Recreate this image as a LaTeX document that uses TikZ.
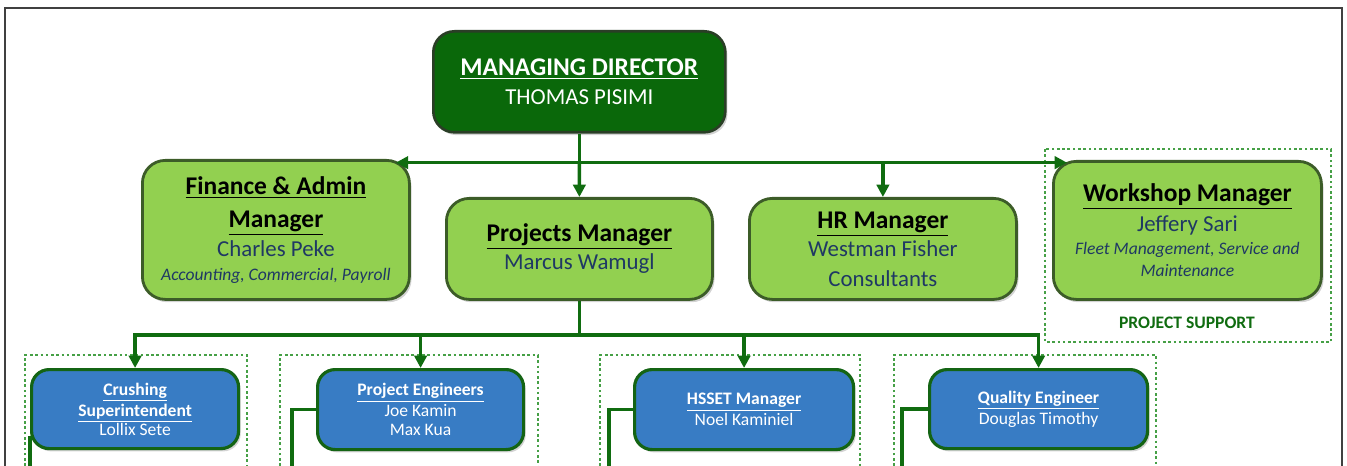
\documentclass[tikz,border=0pt]{standalone}
\usepackage{fontspec}
\setmainfont{Carlito}
\usepackage{tikz}
\usetikzlibrary{arrows.meta}
\usetikzlibrary{shadows}
\usetikzlibrary{positioning}

\definecolor{mdgreen}{RGB}{10,104,10}
\definecolor{mdedge}{RGB}{42,62,38}
\definecolor{mgrgreen}{RGB}{146,208,80}
\definecolor{mgredge}{RGB}{60,92,40}
\definecolor{leadblue}{RGB}{56,124,196}
\definecolor{leadedge}{RGB}{20,100,20}
\definecolor{linkgreen}{RGB}{16,108,16}
\definecolor{teamgreen}{RGB}{70,160,70}
\definecolor{namenavy}{RGB}{31,56,100}

\begin{document}
\begin{tikzpicture}[x=0.02cm, y=-0.02cm,
    orgbox/.style={rectangle, anchor=north west, align=center, inner sep=2pt,
        drop shadow={shadow xshift=1.2pt, shadow yshift=-1.6pt, opacity=0.35}},
    mdbox/.style={orgbox, draw=mdedge, line width=1.5pt, fill=mdgreen, rounded corners=12pt,
        text=white, font=\fontsize{13}{16}\selectfont},
    mgrbox/.style={orgbox, draw=mgredge, line width=1.6pt, fill=mgrgreen, rounded corners=13pt,
        font=\fontsize{13}{16}\selectfont},
    leadbox/.style={orgbox, draw=leadedge, line width=1.8pt, fill=leadblue, rounded corners=10pt,
        text=white, font=\fontsize{10}{11.5}\selectfont},
    teamframe/.style={draw=teamgreen, line width=0.6pt, dash pattern=on 1.5pt off 1.5pt},
    link/.style={draw=linkgreen, line width=2pt},
    arr/.style={link, -{Triangle[length=7pt,width=7pt]}}
]

\newcommand\px{0.02cm}
\newcommand\mgrtitle[1]{{\fontsize{14.5}{16}\selectfont\bfseries\underline{#1}}}
\newcommand\mgrname[1]{{\fontsize{13}{16}\selectfont\color{namenavy}#1}}
\newcommand\mgrnote[1]{{\fontsize{10}{12}\selectfont\itshape\color{namenavy}#1}}
\newcommand\leadtitle[1]{{\bfseries\underline{#1}}}

\useasboundingbox (0,0) rectangle (1347,466);
\coordinate (bottomedge) at (0,466);

% page frame
\draw[line width=1.1pt, black!75] (5,466) -- (5,8) -- (1342,8) -- (1342,466);

% dashed team frames
\draw[teamframe] (1045,149) rectangle (1331,342);
\draw[teamframe] (25,466) |- (247,355) -- (247,466);
\draw[teamframe] (280,466) |- (538,355) -- (538,466);
\draw[teamframe] (600,466) |- (860,355) -- (860,466);
\draw[teamframe] (894,466) |- (1156,355) -- (1156,466);

% top
\node at (432,30) [mdbox, minimum width=292*\px, minimum height=101*\px] (md)
    {{\fontsize{14.5}{16}\selectfont\bfseries\underline{MANAGING DIRECTOR}}\\[0.4pt] THOMAS PISIMI};

% managers
\node at (141,159) [mgrbox, minimum width=267*\px, minimum height=139*\px] (fin)
    {\mgrtitle{Finance \& Admin}\\[2.7pt] \mgrtitle{Manager}\\[0.4pt] \mgrname{Charles Peke}\\[-2.4pt] \mgrnote{Accounting, Commercial, Payroll}};
\node at (445,197) [mgrbox, minimum width=266*\px, minimum height=101*\px] (pm)
    {\mgrtitle{Projects Manager}\\ \mgrname{Marcus Wamugl}};
\node at (748,197) [mgrbox, minimum width=267*\px, minimum height=101*\px] (hr)
    {\mgrtitle{HR Manager}\\ \mgrname{Westman Fisher}\\[1pt] \mgrname{Consultants}};
\node at (1052,160) [mgrbox, minimum width=268*\px, minimum height=138*\px] (ws)
    {\mgrtitle{Workshop Manager}\\[1pt] \mgrname{Jeffery Sari}\\[-3pt] \mgrnote{Fleet Management, Service and}\\[-3.5pt] \mgrnote{Maintenance}};
\node at (1187,323) [font=\fontsize{10}{12}\selectfont\bfseries, text=linkgreen] (support) {PROJECT SUPPORT};

% leads
\node at (30,368) [leadbox, minimum width=207*\px, minimum height=79*\px] (crush)
    {\leadtitle{Crushing}\\[0.4pt] \leadtitle{Superintendent}\\[-0.7pt] Lollix Sete};
\node at (316,368) [leadbox, minimum width=206*\px, minimum height=80*\px] (pe)
    {\leadtitle{Project Engineers}\\[0.4pt] Joe Kamin\\[-0.7pt] Max Kua};
\node at (633,368) [leadbox, minimum width=219*\px, minimum height=80*\px] (hsset)
    {\leadtitle{HSSET Manager}\\[0.4pt] Noel Kaminiel};
\node at (928,368) [leadbox, minimum width=218*\px, minimum height=79*\px] (qe)
    {\leadtitle{Quality Engineer}\\[0.4pt] Douglas Timothy};

% connectors, upper level
\path (md.south) ++(0,29) coordinate (split);
\draw[link] (md.south) -- (split);
\draw[arr, shorten >=-0.3cm] (split) -- (split -| fin.east);
\draw[arr, shorten >=-0.3cm] (split) -- (split -| ws.west);
\draw[arr] (split) -- (pm.north);
\draw[arr] (split -| hr.north) -- (hr.north);

% connectors, lower level
\path (pm.south) ++(0,34) coordinate (split2);
\draw[link] (pm.south) -- (split2);
\draw[link, line cap=rect] (split2 -| crush.north) -- (split2 -| qe.north);
\foreach \name in {crush, pe, hsset, qe}
    \draw[arr] (split2 -| \name.north) -- (\name.north);

% lines on to the next level
\draw[link] ([yshift=8pt]crush.south west) -- (crush.south west |- bottomedge);
\foreach \name/\off in {pe/24, hsset/24, qe/26}
    \draw[link] (\name.west) -- ++(-\off,0) coordinate (bend) -- (bend |- bottomedge);

\end{tikzpicture}
\end{document}
